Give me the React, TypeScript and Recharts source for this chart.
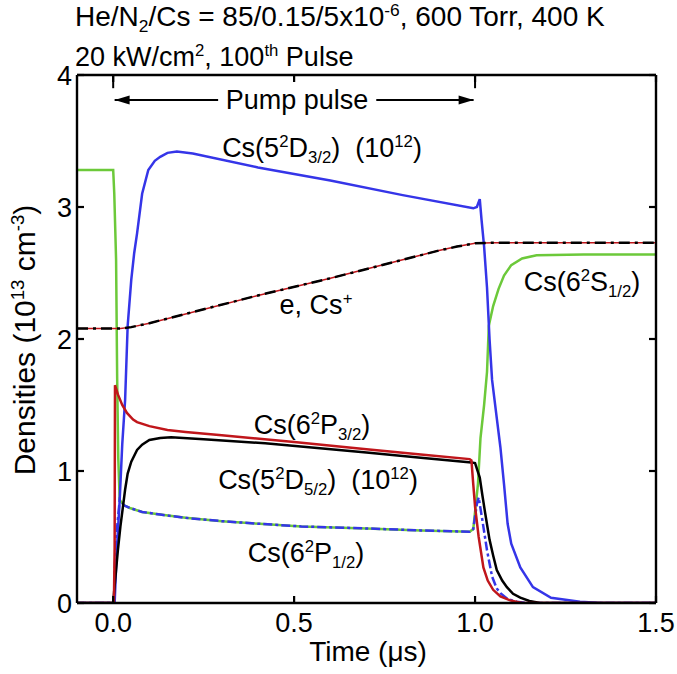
import React from "react";
import { LineChart, Line, XAxis, YAxis, ReferenceLine } from "recharts";

type Pt = [number, number];

const xTicks = [0, 0.5, 1.0, 1.5];
const yTicks = [0, 1, 2, 3, 4];

// time (µs), density (1e13 cm^-3)
const groundS12: Pt[] = [
  [-0.1, 3.28], [0.0, 3.28], [0.003, 3.1], [0.008, 2.6], [0.011, 1.7], [0.014, 1.1],
  [0.018, 0.78], [0.03, 0.74], [0.046, 0.72], [0.08, 0.69], [0.13, 0.67], [0.2, 0.645],
  [0.3, 0.62], [0.405, 0.6], [0.52, 0.58], [0.7, 0.565], [0.85, 0.55], [0.985, 0.54],
  [0.995, 0.56], [1.008, 0.9], [1.015, 1.25], [1.025, 1.5], [1.033, 1.75], [1.038, 2.1],
  [1.05, 2.25], [1.065, 2.38], [1.08, 2.48], [1.1, 2.56], [1.13, 2.61], [1.17, 2.635],
  [1.3, 2.64], [1.5, 2.64],
];

const d32: Pt[] = [
  [-0.1, 0], [0.004, 0], [0.01, 0.4], [0.018, 0.78], [0.025, 1.2], [0.033, 1.54],
  [0.04, 2.1], [0.05, 2.45], [0.058, 2.65], [0.066, 2.8], [0.08, 3.1], [0.097, 3.28],
  [0.115, 3.35], [0.13, 3.38], [0.15, 3.41], [0.176, 3.42], [0.22, 3.405], [0.4, 3.3],
  [0.6, 3.2], [0.8, 3.09], [0.995, 2.99], [1.005, 3.0], [1.013, 3.06], [1.018, 2.9],
  [1.025, 2.7], [1.033, 2.39], [1.04, 2.0], [1.047, 1.69], [1.06, 1.4], [1.07, 1.18],
  [1.08, 0.9], [1.09, 0.6], [1.1, 0.45], [1.125, 0.27], [1.16, 0.12], [1.21, 0.04],
  [1.29, 0.01], [1.35, 0], [1.5, 0],
];

const p32: Pt[] = [
  [-0.1, 0], [0.002, 0], [0.004, 0.42], [0.005, 1.65], [0.013, 1.58], [0.025, 1.5],
  [0.038, 1.44], [0.055, 1.39], [0.066, 1.37], [0.1, 1.34], [0.15, 1.31], [0.2, 1.295],
  [0.3, 1.27], [0.5, 1.22], [0.7, 1.165], [0.85, 1.125], [0.985, 1.09], [0.99, 1.08],
  [0.995, 0.9], [1.0, 0.73], [1.01, 0.5], [1.023, 0.27], [1.035, 0.17], [1.05, 0.1],
  [1.07, 0.05], [1.097, 0.02], [1.13, 0], [1.5, 0],
];

const d52: Pt[] = [
  [-0.1, 0], [0.0, 0], [0.003, 0.1], [0.008, 0.25], [0.013, 0.4], [0.02, 0.58],
  [0.027, 0.73], [0.033, 0.86], [0.04, 0.98], [0.05, 1.07], [0.066, 1.16], [0.08, 1.2],
  [0.1, 1.235], [0.13, 1.25], [0.16, 1.255], [0.25, 1.24], [0.42, 1.21], [0.7, 1.14],
  [0.85, 1.1], [0.99, 1.065], [1.0, 1.06], [1.013, 0.95], [1.02, 0.82], [1.028, 0.68],
  [1.04, 0.48], [1.05, 0.36], [1.06, 0.25], [1.075, 0.17], [1.088, 0.12], [1.105, 0.07],
  [1.125, 0.04], [1.15, 0.015], [1.18, 0], [1.5, 0],
];

const p12: Pt[] = [
  [-0.1, 0], [0.002, 0], [0.005, 0.3], [0.01, 0.55], [0.018, 0.78], [0.03, 0.74],
  [0.046, 0.72], [0.08, 0.69], [0.13, 0.67], [0.2, 0.645], [0.3, 0.62], [0.405, 0.6],
  [0.52, 0.58], [0.7, 0.565], [0.85, 0.55], [0.985, 0.54], [0.995, 0.56], [1.005, 0.75],
  [1.01, 0.8], [1.02, 0.63], [1.033, 0.4], [1.047, 0.2], [1.06, 0.11], [1.07, 0.075],
  [1.09, 0.03], [1.115, 0.01], [1.14, 0], [1.5, 0],
];

const electrons: Pt[] = [
  [-0.1, 2.08], [0.02, 2.08], [0.05, 2.09], [0.1, 2.12], [0.2, 2.19], [0.4, 2.33],
  [0.6, 2.46], [0.8, 2.6], [0.9, 2.67], [0.95, 2.7], [1.0, 2.725], [1.05, 2.73], [1.5, 2.73],
];

const rows = (pts: Pt[]) => pts.map(([t, n]) => ({ t, n }));

const FONT = "'Liberation Sans', Arial, Helvetica, sans-serif";
const FS = 27;
const TICK = 7;

const LeftTick = ({ x, y, payload }: any) => (
  <g>
    <line x1={x} x2={x + TICK} y1={y} y2={y} stroke="#000" strokeWidth={2.2} />
    <text x={x - 5} y={y} dy="0.36em" textAnchor="end" fontSize={FS} fontFamily={FONT} fill="#000">
      {payload.value}
    </text>
  </g>
);

const RightTick = ({ x, y }: any) => (
  <line x1={x} x2={x - TICK} y1={y} y2={y} stroke="#000" strokeWidth={2.2} />
);

const BottomTick = ({ x, y, payload }: any) => (
  <g>
    <line x1={x} x2={x} y1={y} y2={y - TICK} stroke="#000" strokeWidth={2.2} />
    <text x={x} y={y + 29} textAnchor="middle" fontSize={FS} fontFamily={FONT} fill="#000">
      {Number(payload.value).toFixed(1)}
    </text>
  </g>
);

const TopTick = ({ x, y }: any) => (
  <line x1={x} x2={x} y1={y} y2={y + TICK} stroke="#000" strokeWidth={2.2} />
);

const arrowShape = (headAtStart: boolean) => (props: any) => {
  const { x1, y1, x2, y2 } = props;
  const hx = headAtStart ? x1 : x2;
  const dir = headAtStart ? 1 : -1;
  const len = 15;
  const half = 4.5;
  return (
    <g>
      <line x1={x1} y1={y1} x2={x2} y2={y2} stroke="#000" strokeWidth={2} />
      <polygon
        points={`${hx},${y1} ${hx + dir * len},${y1 - half} ${hx + dir * len},${y1 + half}`}
        fill="#000"
      />
    </g>
  );
};

const sup: React.CSSProperties = { fontSize: "0.62em", position: "relative", top: "-0.6em" };
const sub: React.CSSProperties = { fontSize: "0.62em", position: "relative", top: "0.35em" };

const Txt = ({ cx, cy, size = FS, children }: { cx: number; cy: number; size?: number; children: React.ReactNode }) => (
  <div
    style={{
      position: "absolute",
      left: cx,
      top: cy,
      transform: "translate(-50%, -50%)",
      whiteSpace: "pre",
      lineHeight: 1,
      fontSize: size,
      fontFamily: FONT,
      color: "#000",
    }}
  >
    {children}
  </div>
);

const axisLine = { stroke: "#000", strokeWidth: 2.4 };

export default function App() {
  return (
    <div
      style={{
        position: "absolute",
        left: 0,
        top: 0,
        width: 677,
        height: 674,
        background: "#fff",
        overflow: "hidden",
      }}
    >
      <LineChart
        width={677}
        height={674}
        margin={{ top: 74, right: 20, bottom: 70, left: 76 }}
      >
        <XAxis
          xAxisId="b"
          dataKey="t"
          type="number"
          domain={[-0.1, 1.5]}
          ticks={xTicks}
          allowDataOverflow
          height={1}
          tickSize={0}
          tickMargin={0}
          tickLine={false}
          tick={<BottomTick />}
          axisLine={axisLine}
        />
        <XAxis
          xAxisId="top"
          orientation="top"
          dataKey="t"
          type="number"
          domain={[-0.1, 1.5]}
          ticks={xTicks}
          allowDataOverflow
          height={1}
          tickSize={0}
          tickMargin={0}
          tickLine={false}
          tick={<TopTick />}
          axisLine={axisLine}
        />
        <YAxis
          yAxisId="l"
          type="number"
          domain={[0, 4]}
          ticks={yTicks}
          allowDataOverflow
          width={1}
          tickSize={0}
          tickMargin={0}
          tickLine={false}
          tick={<LeftTick />}
          axisLine={axisLine}
        />
        <YAxis
          yAxisId="r"
          orientation="right"
          type="number"
          domain={[0, 4]}
          ticks={yTicks}
          allowDataOverflow
          width={1}
          tickSize={0}
          tickMargin={0}
          tickLine={false}
          tick={<RightTick />}
          axisLine={axisLine}
        />

        {/* pump pulse markers */}
        <ReferenceLine
          xAxisId="b"
          yAxisId="l"
          segment={[{ x: 0, y: 4 }, { x: 0, y: 3.9 }]}
          stroke="#000"
          strokeWidth={2}
        />
        <ReferenceLine
          xAxisId="b"
          yAxisId="l"
          segment={[{ x: 1.0, y: 4 }, { x: 1.0, y: 3.9 }]}
          stroke="#000"
          strokeWidth={2}
        />
        <ReferenceLine
          xAxisId="b"
          yAxisId="l"
          segment={[{ x: 0.004, y: 3.81 }, { x: 0.29, y: 3.81 }]}
          shape={arrowShape(true)}
        />
        <ReferenceLine
          xAxisId="b"
          yAxisId="l"
          segment={[{ x: 0.727, y: 3.81 }, { x: 0.996, y: 3.81 }]}
          shape={arrowShape(false)}
        />

        <Line xAxisId="b" yAxisId="l" data={rows(groundS12)} dataKey="n" type="linear"
          stroke="#6cc93a" strokeWidth={2.5} dot={false} isAnimationActive={false} />
        <Line xAxisId="b" yAxisId="l" data={rows(d32)} dataKey="n" type="linear"
          stroke="#3535e8" strokeWidth={2.5} dot={false} isAnimationActive={false} />
        <Line xAxisId="b" yAxisId="l" data={rows(p12)} dataKey="n" type="linear"
          stroke="#3535e8" strokeWidth={2.5} strokeDasharray="9 3 3 3" dot={false} isAnimationActive={false} />
        <Line xAxisId="b" yAxisId="l" data={rows(d52)} dataKey="n" type="linear"
          stroke="#000" strokeWidth={2.5} dot={false} isAnimationActive={false} />
        <Line xAxisId="b" yAxisId="l" data={rows(p32)} dataKey="n" type="linear"
          stroke="#c0161b" strokeWidth={2.5} dot={false} isAnimationActive={false} />
        <Line xAxisId="b" yAxisId="l" data={rows(electrons)} dataKey="n" type="linear"
          stroke="#c0161b" strokeWidth={1.5} dot={false} isAnimationActive={false} />
        <Line xAxisId="b" yAxisId="l" data={rows(electrons)} dataKey="n" type="linear"
          stroke="#000" strokeWidth={2.5} strokeDasharray="11 5 3 5" dot={false} isAnimationActive={false} />
      </LineChart>

      {/* title */}
      <div style={{ position: "absolute", left: 75, top: 3, fontSize: 28, fontFamily: FONT, lineHeight: 1, whiteSpace: "pre" }}>
        He/N<span style={sub}>2</span>/Cs = 85/0.15/5x10<span style={sup}>-6</span>, 600 Torr, 400 K
      </div>
      <div style={{ position: "absolute", left: 75, top: 44, fontSize: FS, fontFamily: FONT, lineHeight: 1, whiteSpace: "pre" }}>
        20 kW/cm<span style={sup}>2</span>, 100<span style={sup}>th</span> Pulse
      </div>

      <Txt cx={297} cy={100}>Pump pulse</Txt>
      <Txt cx={322} cy={148}>
        Cs(5<span style={sup}>2</span>D<span style={sub}>3/2</span>)  (10<span style={sup}>12</span>)
      </Txt>
      <Txt cx={316} cy={305}>
        e, Cs<span style={sup}>+</span>
      </Txt>
      <Txt cx={582} cy={282}>
        Cs(6<span style={sup}>2</span>S<span style={sub}>1/2</span>)
      </Txt>
      <Txt cx={312} cy={425}>
        Cs(6<span style={sup}>2</span>P<span style={sub}>3/2</span>)
      </Txt>
      <Txt cx={318} cy={480}>
        Cs(5<span style={sup}>2</span>D<span style={sub}>5/2</span>)  (10<span style={sup}>12</span>)
      </Txt>
      <Txt cx={306} cy={553}>
        Cs(6<span style={sup}>2</span>P<span style={sub}>1/2</span>)
      </Txt>

      <Txt cx={368} cy={652} size={28}>Time (μs)</Txt>
      <div
        style={{
          position: "absolute",
          left: 25,
          top: 340,
          transform: "translate(-50%, -50%) rotate(-90deg)",
          whiteSpace: "pre",
          lineHeight: 1,
          fontSize: 30,
          fontFamily: FONT,
        }}
      >
        Densities (10<span style={sup}>13</span> cm<span style={sup}>-3</span>)
      </div>
    </div>
  );
}
